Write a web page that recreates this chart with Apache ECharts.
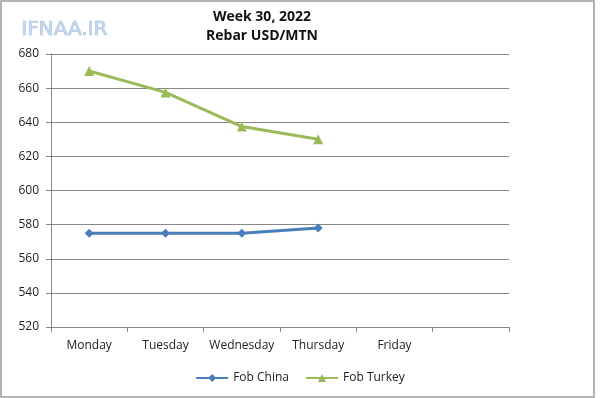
<!DOCTYPE html>
<html>
<head>
<meta charset="utf-8">
<script src="https://cdn.jsdelivr.net/npm/echarts@6/dist/echarts.min.js"></script>
<style>
  html, body { margin: 0; padding: 0; background: #fff; }
  #chart { width: 600px; height: 398px; }
</style>
</head>
<body>
<div id="chart"></div>
<script>
var days = ["Monday", "Tuesday", "Wednesday", "Thursday", "Friday", ""];
var fobChina = [575, 575, 575, 578, null, null];
var fobTurkey = [670, 657.5, 637.5, 630, null, null];
var titleLines = ["Week 30, 2022", "Rebar USD/MTN"];

var chart = echarts.init(document.getElementById("chart"));
var font = "'Open Sans', 'Noto Sans', sans-serif";

chart.setOption({
  animation: false,
  backgroundColor: "#fff",
  title: {
    text: titleLines.join("\n"),
    left: 257,
    top: 3,
    textAlign: "center",
    textStyle: { fontFamily: font, fontSize: 14, fontWeight: "bold", color: "#111", lineHeight: 19 }
  },
  graphic: [
    {
      type: "rect",
      shape: { x: 1, y: 1, width: 593, height: 396 },
      style: { fill: null, stroke: "#9a9a9a", lineWidth: 1.5 },
      silent: true
    },
    {
      type: "text",
      left: 21,
      top: 19,
      style: {
        text: "IFNAA.IR",
        fontFamily: "'DejaVu Sans', sans-serif",
        fontSize: 20,
        fill: "#c4d7ee",
        stroke: "#8fb0d6",
        lineWidth: 0.7
      }
    }
  ],
  legend: {
    bottom: 9,
    left: "center",
    itemGap: 16,
    itemWidth: 32,
    itemHeight: 10,
    textStyle: { fontFamily: font, fontSize: 12, color: "#222" },
    data: ["Fob China", "Fob Turkey"]
  },
  grid: { left: 51, right: 91, top: 54, bottom: 71 },
  xAxis: {
    type: "category",
    data: days,
    boundaryGap: true,
    axisLine: { lineStyle: { color: "#868686", width: 1 } },
    axisTick: { show: true, interval: 0, length: 5, lineStyle: { color: "#868686" } },
    axisLabel: { interval: 0, fontFamily: font, fontSize: 12, color: "#222", margin: 13 }
  },
  yAxis: {
    type: "value",
    min: 520,
    max: 680,
    interval: 20,
    axisLine: { show: true, lineStyle: { color: "#868686", width: 1 } },
    axisTick: { show: true, length: 5, lineStyle: { color: "#868686" } },
    axisLabel: { fontFamily: font, fontSize: 12, color: "#222", margin: 12 },
    splitLine: { lineStyle: { color: "#868686", width: 1 } }
  },
  series: [
    {
      name: "Fob China",
      type: "line",
      data: fobChina,
      symbol: "diamond",
      symbolSize: 9,
      color: "#4a7ebb",
      lineStyle: { width: 3, color: "#4a7ebb" },
      itemStyle: { color: "#4a7ebb" }
    },
    {
      name: "Fob Turkey",
      type: "line",
      data: fobTurkey,
      symbol: "triangle",
      symbolSize: 10,
      color: "#9bbb59",
      lineStyle: { width: 3, color: "#9bbb59" },
      itemStyle: { color: "#9bbb59" }
    }
  ]
});
</script>
</body>
</html>
